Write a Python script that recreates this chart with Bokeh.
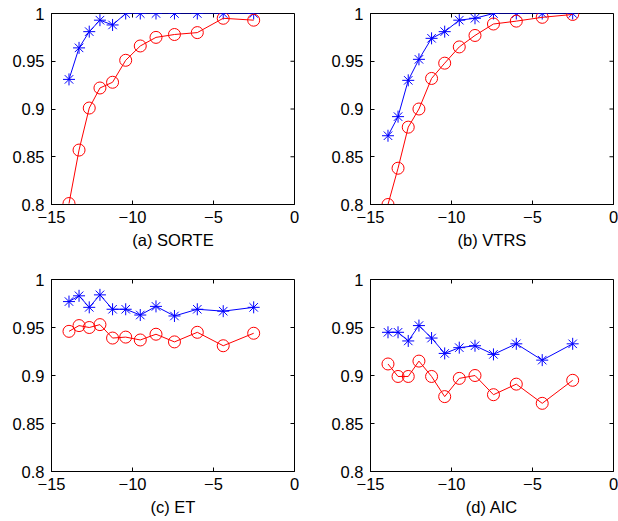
import math
from bokeh.plotting import figure
from bokeh.layouts import gridplot
from bokeh.models import FixedTicker, Range1d
from bokeh.embed import file_html
from bokeh.resources import INLINE

snr = [-13.92, -13.30, -12.67, -12.01, -11.23, -10.42, -9.52, -8.55, -7.41, -6.00, -4.40, -2.52]

sorte_blue = [0.931, 0.964, 0.981, 0.993, 0.988, 1.0, 1.0, 1.0, 1.0, 1.0, 1.0, 1.0]
sorte_red = [0.801, 0.857, 0.901, 0.922, 0.928, 0.951, 0.966, 0.975, 0.978, 0.980, 0.995, 0.993]

vtrs_blue = [0.872, 0.892, 0.930, 0.952, 0.974, 0.981, 0.993, 0.995, 1.0, 1.0, 1.0, 1.0]
vtrs_red = [0.800, 0.838, 0.881, 0.900, 0.932, 0.948, 0.965, 0.977, 0.989, 0.992, 0.996, 0.999]

et_blue = [0.977, 0.983, 0.971, 0.984, 0.969, 0.969, 0.963, 0.972, 0.962, 0.969, 0.967, 0.971]
et_red = [0.946, 0.952, 0.950, 0.953, 0.939, 0.940, 0.937, 0.943, 0.935, 0.945, 0.931, 0.944]

aic_blue = [0.945, 0.945, 0.936, 0.952, 0.939, 0.923, 0.929, 0.931, 0.922, 0.933, 0.916, 0.933]
aic_red = [0.912, 0.899, 0.899, 0.915, 0.899, 0.878, 0.897, 0.900, 0.880, 0.891, 0.871, 0.895]

titles = ["(a) SORTE", "(b) VTRS", "(c) ET", "(d) AIC"]
x_ticks = [-15, -10, -5, 0]
x_tick_labels = ["\u221215", "\u221210", "\u22125", "0"]
y_ticks = [0.8, 0.85, 0.9, 0.95, 1.0]
y_tick_labels = ["0.8", "0.85", "0.9", "0.95", "1"]

FONT = "Liberation Sans"
X_MAX = 0
Y_MAX = 1.0


def make(title, blue, red, w, h, bl, br, bt, bb):
    p = figure(width=w, height=h, output_backend="svg", toolbar_location=None,
               x_range=Range1d(-15, X_MAX), y_range=Range1d(0.8, Y_MAX),
               min_border_left=bl, min_border_right=br,
               min_border_top=bt, min_border_bottom=bb,
               x_axis_label=title)
    p.grid.visible = False
    p.outline_line_color = "black"
    p.outline_line_width = 1
    p.background_fill_color = "white"
    p.border_fill_color = "white"

    xa = p.xaxis[0]
    ya = p.yaxis[0]
    xa.ticker = FixedTicker(ticks=x_ticks)
    ya.ticker = FixedTicker(ticks=y_ticks)
    xa.major_label_overrides = {t: l for t, l in zip(x_ticks, x_tick_labels)}
    ya.major_label_overrides = {t: l for t, l in zip(y_ticks, y_tick_labels)}
    for ax in (xa, ya):
        ax.major_tick_in = 4
        ax.major_tick_out = 0
        ax.minor_tick_line_color = None
        ax.major_label_text_font = FONT
        ax.major_label_text_font_size = "16.5px"
        ax.major_label_text_color = "black"
        ax.axis_line_color = "black"
        ax.major_tick_line_color = "black"
    xa.major_label_standoff = 6
    ya.major_label_standoff = 7
    xa.axis_label_text_font = FONT
    xa.axis_label_text_font_size = "16.5px"
    xa.axis_label_text_font_style = "normal"
    xa.axis_label_text_color = "black"
    xa.axis_label_standoff = 5

    # box ticks on top and right edges (MATLAB "box on")
    p.ray(x=x_ticks, y=[Y_MAX] * len(x_ticks), length=4, length_units="screen",
          angle=-math.pi / 2, line_color="black", line_width=1)
    p.ray(x=[X_MAX] * len(y_ticks), y=y_ticks, length=4, length_units="screen",
          angle=math.pi, line_color="black", line_width=1)

    p.line(snr, blue, line_color="blue", line_width=1)
    p.scatter(snr, blue, marker="asterisk", size=12, line_color="blue", line_width=1)
    p.line(snr, red, line_color="red", line_width=1)
    p.scatter(snr, red, marker="circle", size=12, line_color="red", fill_color=None, line_width=1)
    return p


pa = make(titles[0], sorte_blue, sorte_red, 309, 260, 51, 15, 13, 56)
pb = make(titles[1], vtrs_blue, vtrs_red, 309, 260, 61, 5, 13, 56)
pc = make(titles[2], et_blue, et_red, 309, 261, 51, 15, 19, 50)
pd = make(titles[3], aic_blue, aic_red, 309, 261, 61, 5, 19, 50)

grid = gridplot([[pa, pb], [pc, pd]], toolbar_location=None)

open("out.html", "w").write(file_html(grid, INLINE))
